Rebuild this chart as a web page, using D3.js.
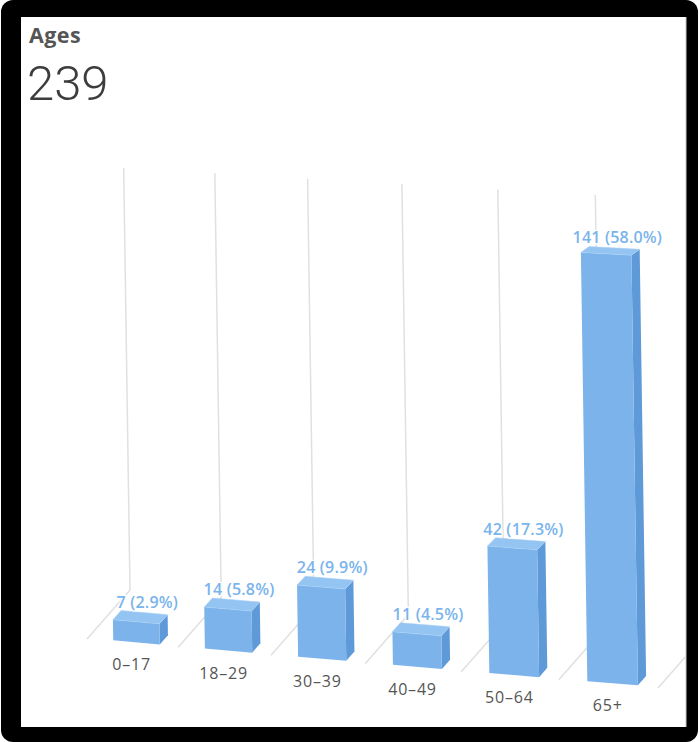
<!DOCTYPE html>
<html>
<head>
<meta charset="utf-8">
<script src="https://cdn.jsdelivr.net/npm/d3@7"></script>
<style>
  html, body { margin: 0; padding: 0; background: #fff; }
  svg { display: block; }
</style>
</head>
<body>
<svg id="chart" width="700" height="742"></svg>
<script>
// Age groups and counts
const categories = ["0–17", "18–29", "30–39", "40–49", "50–64", "65+"];
const counts = [7, 14, 24, 11, 42, 141];
const shares = ["2.9%", "5.8%", "9.9%", "4.5%", "17.3%", "58.0%"];
const totalLabel = "239";
const valueMax = 150;

const svg = d3.select("#chart");

// Frame and card
svg.append("rect").attr("x", 1).attr("y", 0).attr("width", 697).attr("height", 742)
  .attr("rx", 12).attr("fill", "#000");
const card = { x: 21, y: 17, w: 665, h: 710 };
svg.append("rect").attr("x", card.x).attr("y", card.y).attr("width", card.w).attr("height", card.h)
  .attr("fill", "#fff");
svg.append("line").attr("x1", card.x + card.w).attr("x2", card.x + card.w)
  .attr("y1", card.y).attr("y2", card.y + card.h).attr("stroke", "#c8c8c8").attr("stroke-width", 1);

svg.append("defs").append("clipPath").attr("id", "cardClip")
  .append("rect").attr("x", card.x).attr("y", card.y).attr("width", card.w).attr("height", card.h);

// Header
svg.append("text").attr("x", 29).attr("y", 43)
  .attr("font-family", "'Open Sans', sans-serif").attr("font-weight", 700)
  .attr("font-size", 21.5).attr("fill", "#555").attr("letter-spacing", 0.4).text("Ages");
svg.append("text").attr("x", 27).attr("y", 100)
  .attr("font-family", "Roboto, sans-serif").attr("font-weight", 300)
  .attr("font-size", 49).attr("fill", "#3d3d3d").text(totalLabel);

// Perspective projection of the 3D column chart
const xUnit = d3.scaleLinear().domain([0, categories.length]).range([0, 1]);
const yScale = d3.scaleLinear().domain([0, valueMax]).range([0, 422]);
const view = {
  origin: [87, 639], floorWidth: 571, floorDrop: 49,
  depth: [43, -49], bend: 0.05, lean: 0.015, grow: 0.04, nearGrow: 0.045
};
function project(X, v, Z) {
  const u = xUnit(X);
  const g = u + view.bend * u * (u - 1);
  const s = (1 + view.grow * u) * (1 + view.nearGrow * (1 - Z));
  const h = yScale(v) * s;
  const bx = view.origin[0] + view.floorWidth * g + view.depth[0] * Z;
  const by = view.origin[1] + view.floorDrop * u + view.depth[1] * Z;
  return [bx - h * view.lean, by - h];
}

const plot = svg.append("g").attr("clip-path", "url(#cardClip)");
const poly = d3.line();

// Floor and wall gridlines at category boundaries
d3.range(categories.length + 1).forEach(i => {
  plot.append("path")
    .attr("d", poly([project(i, 0, 0), project(i, 0, 1), project(i, valueMax, 1)]))
    .attr("fill", "none").attr("stroke", "#e0e0e0").attr("stroke-width", 1.5);
});

// Columns
const x0 = 0.28, x1 = 0.79, z0 = 0.02, z1 = 0.21;
const colors = { front: "#7cb3ea", side: "#5f9ad8", top: "#94c4f2", edge: "#a9d0f5" };
counts.forEach((v, i) => {
  const a = i + x0, b = i + x1;
  const g = plot.append("g");
  // right side
  g.append("path").attr("d", poly([project(b, 0, z0), project(b, 0, z1), project(b, v, z1), project(b, v, z0)]) + "Z")
    .attr("fill", colors.side);
  // front
  g.append("path").attr("d", poly([project(a, 0, z0), project(b, 0, z0), project(b, v, z0), project(a, v, z0)]) + "Z")
    .attr("fill", colors.front);
  // top
  g.append("path").attr("d", poly([project(a, v, z0), project(b, v, z0), project(b, v, z1), project(a, v, z1)]) + "Z")
    .attr("fill", colors.top).attr("stroke", colors.edge).attr("stroke-width", 0.6);
});

// Value labels
counts.forEach((v, i) => {
  const p = project(i + (x0 + x1) / 2, v, z1);
  plot.append("text").attr("x", p[0] + 3).attr("y", p[1] - 5)
    .attr("text-anchor", "middle")
    .attr("font-family", "'Open Sans', sans-serif").attr("font-weight", 600)
    .attr("font-size", 16).attr("letter-spacing", 0.2)
    .attr("fill", "#7ab4ec").attr("stroke", "#fff").attr("stroke-width", 2.5)
    .attr("paint-order", "stroke")
    .text(`${v} (${shares[i]})`);
});

// Category labels
categories.forEach((c, i) => {
  const p = project(i + (x0 + x1) / 2, 0, 0);
  plot.append("text").attr("x", p[0] - 4).attr("y", p[1] + 27)
    .attr("text-anchor", "middle")
    .attr("font-family", "'Open Sans', sans-serif").attr("font-size", 16)
    .attr("letter-spacing", 0.8)
    .attr("fill", "#555").text(c);
});
</script>
</body>
</html>
